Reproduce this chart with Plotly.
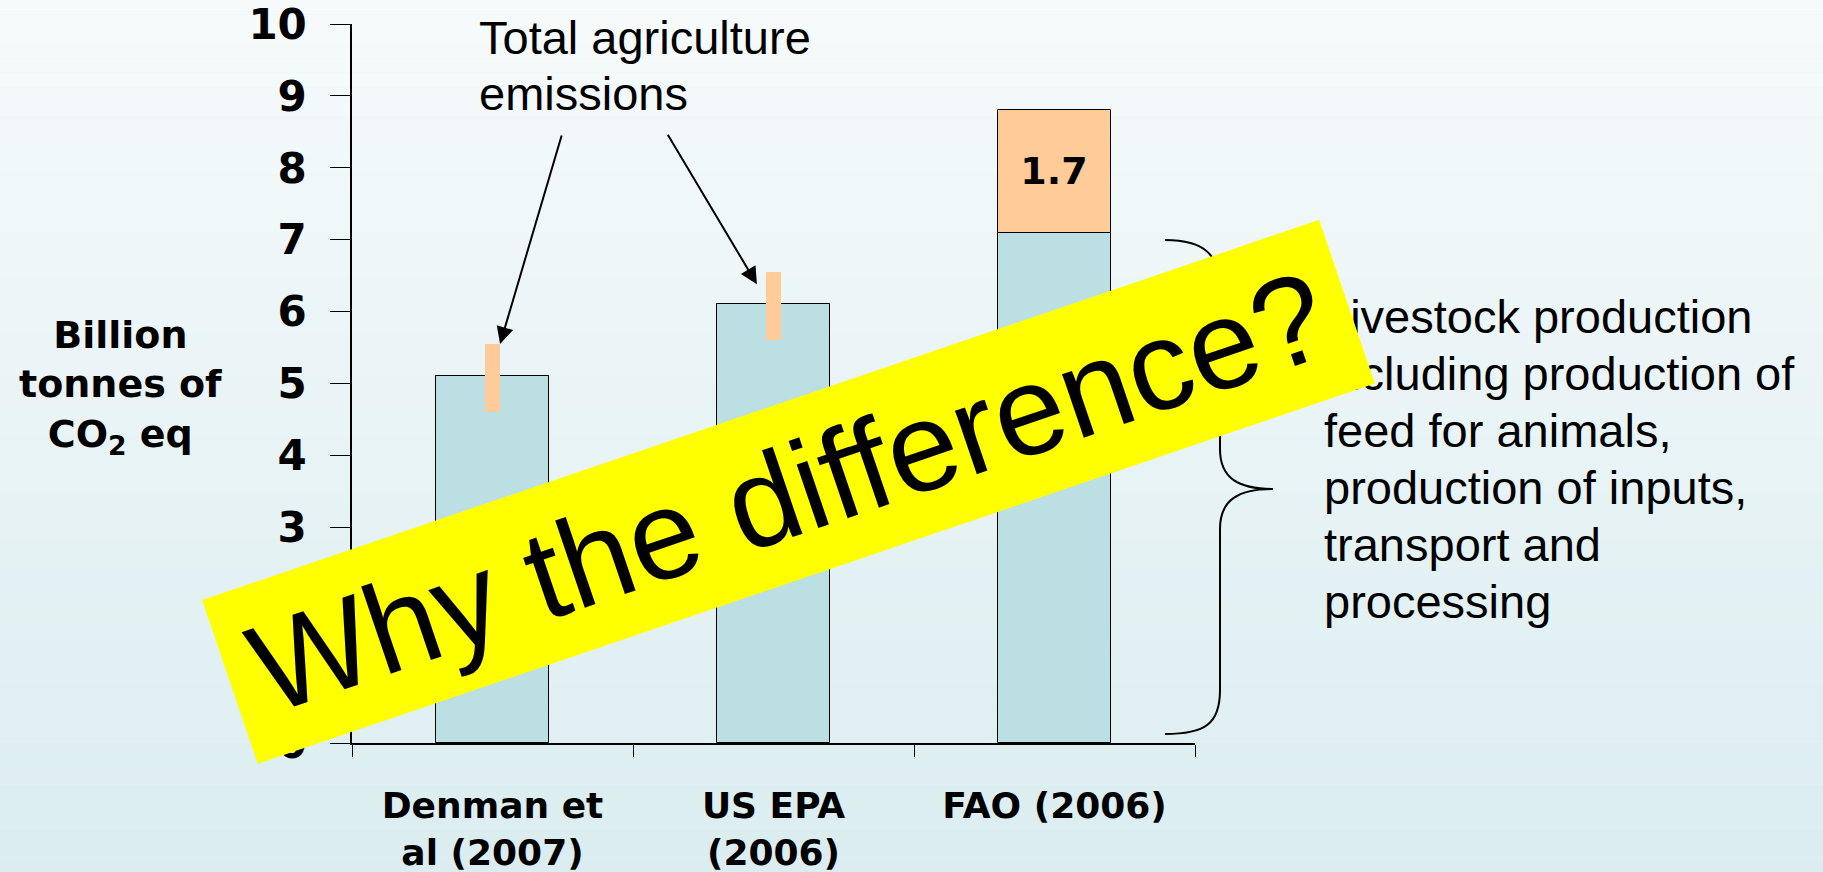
import plotly.graph_objects as go

WIDTH, HEIGHT = 1823, 872
LEFT, RIGHT, TOP, BOTTOM = 352, 628, 24, 129
PLOT_W = WIDTH - LEFT - RIGHT
PLOT_H = HEIGHT - TOP - BOTTOM

BOLD = "DejaVu Sans"
PLAIN = "Liberation Sans"
BLUE = "#bcdfe4"
ORANGE = "#ffcc99"

# data
categories = ["Denman et<br>al (2007)", "US EPA<br>(2006)", "FAO (2006)"]
total_emissions = [5.1, 6.1, 7.1]
fao_extra = [1.7]
range_low = [4.6, 5.6]
range_high = [5.55, 6.55]
y_ticks = list(range(0, 11))

callout_lines = ["Total agriculture", "emissions"]
livestock_lines = [
    "Livestock production",
    "including production of",
    "feed for animals,",
    "production of inputs,",
    "transport and",
    "processing",
]


def px(x, y):
    # page pixel -> paper coordinates
    return (x - LEFT) / PLOT_W, (HEIGHT - BOTTOM - y) / PLOT_H


fig = go.Figure()
fig.add_trace(go.Bar(
    x=categories, y=total_emissions, width=0.4,
    marker=dict(color=BLUE, line=dict(color="black", width=1)),
    hoverinfo="skip",
))
fig.add_trace(go.Bar(
    x=categories[2:], y=fao_extra, base=total_emissions[2:], width=0.4,
    marker=dict(color=ORANGE, line=dict(color="black", width=1)),
    text=[f"{v}" for v in fao_extra], textposition="inside", insidetextanchor="middle",
    textfont=dict(family=BOLD, size=38, color="black", weight="bold"),
    hoverinfo="skip",
))
fig.add_trace(go.Bar(
    x=categories[:2], y=[h - l for l, h in zip(range_low, range_high)], base=range_low,
    width=0.055, marker=dict(color=ORANGE, line=dict(width=0)),
    hoverinfo="skip",
))

# background gradient
shapes = []
n = 60
top_c, bot_c = (246, 250, 251), (219, 237, 240)
x0, y0 = px(0, 0)
x1, y1 = px(WIDTH, HEIGHT)
for i in range(n):
    t = i / (n - 1)
    c = tuple(round(a + (b - a) * t) for a, b in zip(top_c, bot_c))
    ya = y0 + (y1 - y0) * i / n
    yb = y0 + (y1 - y0) * (i + 1) / n
    shapes.append(dict(type="rect", xref="paper", yref="paper", x0=x0, x1=x1, y0=yb, y1=ya,
                       fillcolor=f"rgb{c}", line=dict(width=0), layer="below"))

# curly brace beside FAO bar
pts = {
    "top": px(1165, 240), "a": px(1220, 290), "b": px(1220, 449), "tip": px(1273, 489),
    "c": px(1220, 529), "d": px(1220, 690), "bot": px(1165, 734),
}
xm = pts["a"][0]
path = (
    f"M {pts['top'][0]},{pts['top'][1]} "
    f"C {px(1205, 240)[0]},{pts['top'][1]} {xm},{px(0, 255)[1]} {xm},{pts['a'][1]} "
    f"L {xm},{pts['b'][1]} "
    f"C {xm},{px(0, 478)[1]} {px(1238, 0)[0]},{pts['tip'][1]} {pts['tip'][0]},{pts['tip'][1]} "
    f"C {px(1238, 0)[0]},{pts['tip'][1]} {xm},{px(0, 500)[1]} {xm},{pts['c'][1]} "
    f"L {xm},{pts['d'][1]} "
    f"C {xm},{px(0, 724)[1]} {px(1205, 0)[0]},{pts['bot'][1]} {pts['bot'][0]},{pts['bot'][1]}"
)
shapes.append(dict(type="path", xref="paper", yref="paper", path=path,
                   line=dict(color="black", width=2), layer="above"))

annotations = []
# y-axis title
tx, ty = px(120, 387)
annotations.append(dict(
    text="Billion<br>tonnes of<br>CO<sub>2</sub> eq", x=tx, y=ty, xref="paper", yref="paper",
    showarrow=False, xanchor="center", yanchor="middle", align="center",
    font=dict(family=BOLD, size=38, color="black", weight="bold"),
))
# callout text
for i, line in enumerate(callout_lines):
    lx, ly = px(477, 37 + i * 56)
    annotations.append(dict(text=line, x=lx, y=ly, xref="paper", yref="paper", showarrow=False,
                            xanchor="left", yanchor="middle",
                            font=dict(family=PLAIN, size=47, color="black")))
# arrows to the ranges
annotations.append(dict(text="", x=0.027, y=range_high[0], xref="x", yref="y", ax=62, ay=-210,
                        showarrow=True, arrowhead=2, arrowsize=1.7, arrowwidth=2, arrowcolor="black",
                        standoff=0))
annotations.append(dict(text="", x=0.941, y=6.38, xref="x", yref="y", ax=-90, ay=-151,
                        showarrow=True, arrowhead=2, arrowsize=1.7, arrowwidth=2, arrowcolor="black",
                        standoff=0))
# livestock description
for i, line in enumerate(livestock_lines):
    lx, ly = px(1322, 316 + i * 57)
    annotations.append(dict(text=line, x=lx, y=ly, xref="paper", yref="paper", showarrow=False,
                            xanchor="left", yanchor="middle",
                            font=dict(family=PLAIN, size=47, color="black")))
# yellow banner
bx, by = px(788, 492)
annotations.append(dict(
    text="Why the difference?", x=bx, y=by, xref="paper", yref="paper", showarrow=False,
    xanchor="center", yanchor="middle", textangle=-18.8, width=1179, height=172,
    bgcolor="#ffff00", borderpad=0,
    font=dict(family=PLAIN, size=127, color="black"),
))

fig.update_layout(
    width=WIDTH, height=HEIGHT,
    margin=dict(l=LEFT, r=RIGHT, t=TOP, b=BOTTOM, pad=0),
    paper_bgcolor="rgb(232,243,245)", plot_bgcolor="rgba(0,0,0,0)",
    barmode="overlay", showlegend=False, bargap=0,
    shapes=shapes, annotations=annotations,
)
fig.update_xaxes(
    type="category", range=[-0.5, 2.5], showline=True, linecolor="black", linewidth=2,
    ticks="outside", tickson="boundaries", ticklen=12, tickcolor="black", tickwidth=1,
    tickfont=dict(family=BOLD, size=36, color="black", weight="bold"),
    ticklabelstandoff=30, ticklabeloverflow="allow", automargin=False,
    showgrid=False, zeroline=False, fixedrange=True,
)
fig.update_yaxes(
    range=[0, 10], tickvals=y_ticks, showline=True, linecolor="black", linewidth=1.5,
    ticks="outside", ticklen=20, tickcolor="black", tickwidth=1,
    tickfont=dict(family=BOLD, size=42, color="black", weight="bold"),
    ticklabelstandoff=15, ticklabeloverflow="allow", automargin=False,
    showgrid=False, zeroline=False, fixedrange=True,
)

fig.write_html(
    "out.html",
    config={"displayModeBar": False},
    post_script="document.body.style.margin = '0';",
)
